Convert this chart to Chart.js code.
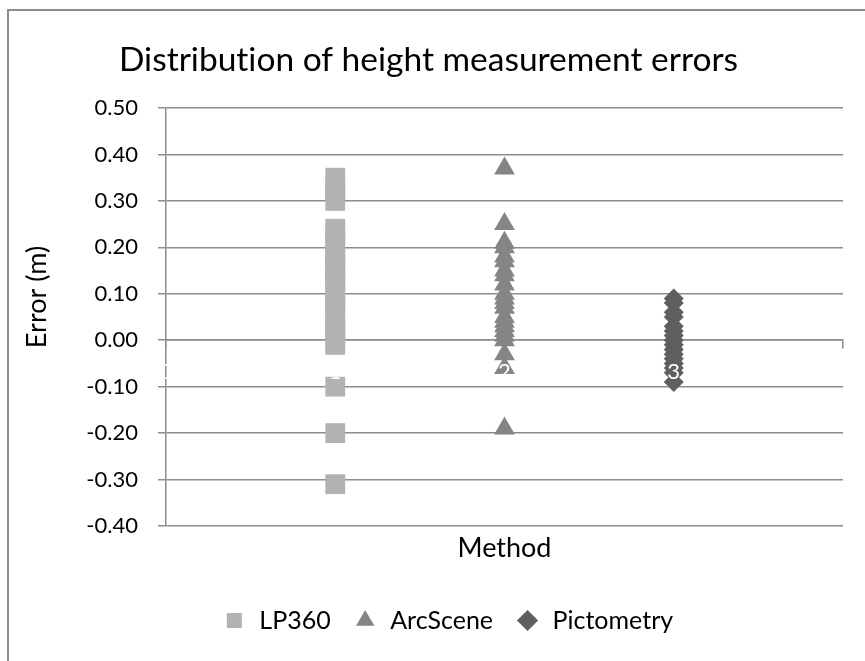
<!DOCTYPE html>
<html lang="en">
  <head>
    <meta charset="UTF-8" />
    <title>Distribution of height measurement errors</title>
    <script src="https://cdn.jsdelivr.net/npm/chart.js"></script>
    <style>
      body { margin: 0; background: #fff; }
      #frame {
        position: absolute; left: 7px; top: 9px; width: 900px; height: 700px;
        border: 2px solid #8c8c8c;
      }
      #error-chart { position: absolute; left: 0; top: 0; }
    </style>
  </head>
  <body>
    <div id="frame"></div>
    <canvas id="error-chart" width="865" height="661"></canvas>

    <script>
      // methods sit at x = 1, 2, 3 on a 0..4 axis
      const methods = ["LP360", "ArcScene", "Pictometry"];
      const methodX = [1, 2, 3];
      const xTickValues = [0, 1, 2, 3, 4];

      // height errors (m)
      const lp360Errors = [0.35, 0.33, 0.32, 0.30, 0.24, 0.23, 0.21, 0.19, 0.18, 0.16, 0.15, 0.13,
        0.12, 0.10, 0.08, 0.07, 0.05, 0.03, 0.02, 0.00, -0.01, -0.10, -0.20, -0.31];
      const arcSceneErrors = [0.37, 0.25, 0.21, 0.20, 0.18, 0.17, 0.15, 0.14, 0.12, 0.10, 0.09,
        0.08, 0.07, 0.05, 0.04, 0.03, 0.02, 0.01, 0.00, -0.03, -0.06, -0.19];
      const pictometryErrors = [0.09, 0.08, 0.06, 0.05, 0.03, 0.02, 0.01, 0.00, -0.01, -0.02,
        -0.03, -0.04, -0.05, -0.06, -0.07, -0.09];

      const seriesErrors = [lp360Errors, arcSceneErrors, pictometryErrors];
      const colors = ["#b2b2b2", "#858585", "#5f5f5f"];
      const styles = ["rect", "triangle", "rectRot"];
      const radii = [14, 12, 10];

      const FONT = "Lato, 'Open Sans', sans-serif";
      const GRID = "#8c8c8c";

      const datasets = methods.map((name, i) => ({
        label: name,
        data: seriesErrors[i].map((v) => ({ x: methodX[i], y: v })),
        backgroundColor: colors[i],
        borderColor: colors[i],
        borderWidth: 0,
        pointStyle: styles[i],
        pointRadius: radii[i],
        pointHoverRadius: radii[i],
      }));

      const tweaks = {
        id: "tweaks",
        // no "ti" ligature in the title
        beforeDraw(chart) { chart.ctx.textRendering = "optimizeSpeed"; },
        // legend sits a bit right of centre like the original
        afterLayout(chart) {
          chart.legend.left += 19;
          chart.legend.right += 19;
        },
        // the x axis numbers are white and end up on top of the markers
        afterDatasetsDraw(chart) {
          const { ctx, scales } = chart;
          const y0 = scales.y.getPixelForValue(0);
          ctx.save();
          ctx.fillStyle = "#fff";
          ctx.font = "22px " + FONT;
          ctx.textAlign = "center";
          ctx.textBaseline = "middle";
          xTickValues.forEach((v) => {
            ctx.fillText(String(v), scales.x.getPixelForValue(v), y0 + 32);
          });
          ctx.restore();
        },
        // y axis title, a little above the middle of the plot like in the original
        afterDraw(chart) {
          const { ctx, chartArea } = chart;
          ctx.save();
          ctx.translate(37, (chartArea.top + chartArea.bottom) / 2 - 20);
          ctx.rotate(-Math.PI / 2);
          ctx.fillStyle = "#000";
          ctx.font = "27px " + FONT;
          ctx.textAlign = "center";
          ctx.textBaseline = "middle";
          ctx.fillText("Error (m)", 0, 0);
          ctx.restore();
        },
      };

      new Chart(document.getElementById("error-chart"), {
        type: "scatter",
        data: { datasets },
        plugins: [tweaks],
        options: {
          responsive: false,
          animation: false,
          events: [],
          layout: { padding: { top: 10, left: 14, right: 22, bottom: 18 } },
          plugins: {
            title: {
              display: true,
              text: "Distribution of height measurement errors",
              color: "#000",
              font: { family: FONT, size: 33.5, weight: "normal", lineHeight: 1 },
              padding: { top: 33.25, bottom: 31.25 },
            },
            legend: {
              position: "bottom",
              labels: {
                usePointStyle: true,
                boxHeight: 15,
                padding: 22,
                color: "#000",
                font: { family: FONT, size: 25 },
              },
            },
            tooltip: { enabled: false },
          },
          scales: {
            y: {
              min: -0.4,
              max: 0.5,
              ticks: {
                stepSize: 0.1,
                padding: 20,
                color: "#000",
                font: { family: FONT, size: 22 },
                callback: (v) => v.toFixed(2),
              },
              grid: { color: GRID, lineWidth: 1.5, tickLength: 8, tickColor: GRID },
              border: { color: GRID, width: 1.5 },
              afterFit: (scale) => { scale.width = 152; },
            },
            // bottom axis: only carries the "Method" title
            x: {
              type: "linear",
              position: "bottom",
              min: 0,
              max: 4,
              ticks: { display: false },
              grid: { display: false, drawTicks: false },
              border: { display: false },
              title: {
                display: true,
                text: "Method",
                color: "#000",
                font: { family: FONT, size: 27 },
                padding: { top: 5.8, bottom: 21.8 },
              },
            },
            // axis line through zero with its tick marks
            xZero: {
              type: "linear",
              position: { y: 0 },
              min: 0,
              max: 4,
              ticks: { display: false, stepSize: 1 },
              grid: { drawOnChartArea: false, tickLength: 8, color: GRID, lineWidth: 1.5 },
              border: { color: GRID, width: 1.5 },
            },
          },
        },
      });
    </script>
  </body>
</html>
